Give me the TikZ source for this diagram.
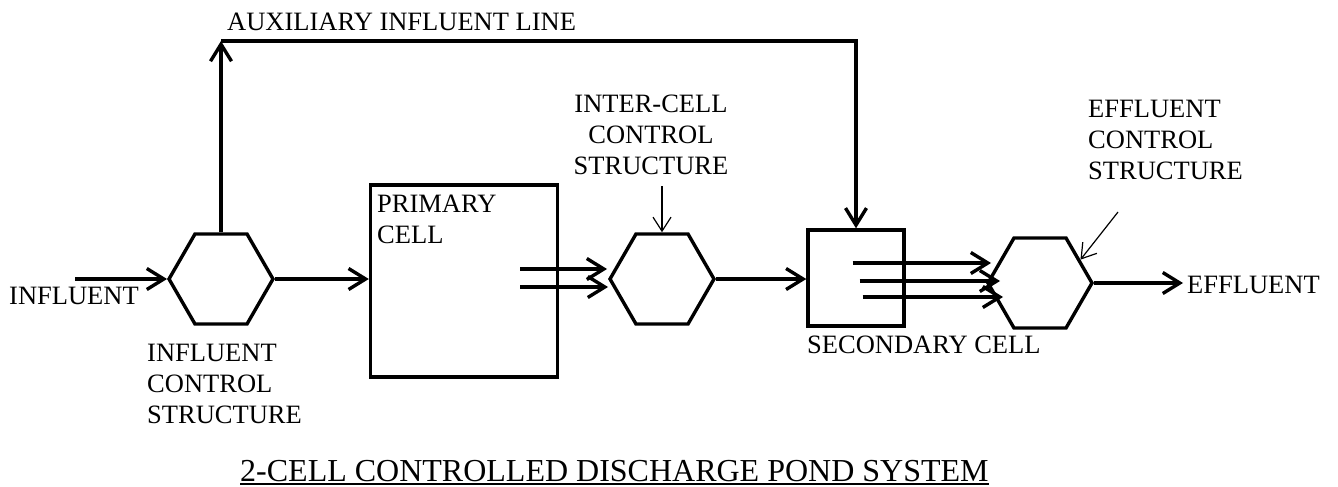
\documentclass[tikz,border=0pt]{standalone}
\usepackage{fontspec}
\setmainfont{Liberation Serif}
\usetikzlibrary{positioning,shapes.geometric,arrows.meta}

\begin{document}
\begin{tikzpicture}[x=1pt, y=-1pt,
    hexa/.style={regular polygon, regular polygon sides=6, draw, line width=3.4pt, minimum size=104pt, inner sep=0pt},
    cell/.style={rectangle, draw, line width=3.4pt, inner sep=0pt},
    lbl/.style={inner sep=0pt, align=left, font=\fontsize{26.5}{31}\selectfont},
    flow/.style={line width=3.4pt, -{Straight Barb[length=17pt, width=21pt]}},
    pointer/.style={line width=1.2pt, -{Straight Barb[length=14pt, width=18pt]}}]

    \useasboundingbox (0,0) rectangle (1338,487);

    \node[hexa] at (221,279) (inflhex) {};
    \node[cell, minimum width=187pt, minimum height=192pt] at (464,281) (primary) {};
    \node[hexa] at (662,279) (interhex) {};
    \node[cell, minimum width=96pt, minimum height=96pt] at (856,278) (secondary) {};
    \node[hexa] at (1040,283) (effhex) {};

    \node[lbl, anchor=base west] at (227,31) (auxtxt) {AUXILIARY INFLUENT LINE};
    \node[lbl, anchor=base west] at (9,304) (influent) {INFLUENT};
    \node[lbl, anchor=north west] at (147,344) (infltxt) {INFLUENT\\CONTROL\\STRUCTURE};
    \node[lbl, anchor=north west] at (377,195) (primarytxt) {PRIMARY\\CELL};
    \node[lbl, align=center, anchor=north] at (651,95) (intertxt) {INTER-CELL\\CONTROL\\STRUCTURE};
    \node[lbl, anchor=base west] at (807,353) (secondarytxt) {SECONDARY CELL};
    \node[lbl, anchor=north west] at (1088,100) (efftxt) {EFFLUENT\\CONTROL\\STRUCTURE};
    \node[lbl, anchor=base west] at (1187,293) (effluent) {EFFLUENT};
    \node[lbl, anchor=base west, font=\fontsize{32}{36}\selectfont] at (240,481) (title) {2-CELL CONTROLLED DISCHARGE POND SYSTEM};

    \coordinate (inflstart) at (75,279);
    \coordinate (auxcorner) at (221,41);
    \coordinate (effptr) at (1118,212);

    % main flow
    \draw[flow] (inflstart) -- (inflhex.west);
    \draw[flow] (inflhex.east) -- (inflhex.east -| primary.west);
    \draw[flow] (inflhex.north) -- (auxcorner);
    \draw[flow] (auxcorner) -| (secondary.north);
    \draw[flow] ([xshift=-39pt, yshift=12pt]primary.east) -- ([xshift=-1pt, yshift=10pt]interhex.west);
    \draw[flow] ([xshift=-39pt, yshift=-6pt]primary.east) -- ([xshift=0pt, yshift=-8pt]interhex.west);
    \draw[flow] (interhex.east) -- (interhex.east -| secondary.west);
    \draw[flow] ([xshift=-53pt, yshift=15pt]secondary.east) -- ([xshift=5pt, yshift=20pt]effhex.west);
    \draw[flow] ([xshift=-46pt, yshift=-3pt]secondary.east) -- ([xshift=14pt, yshift=2pt]effhex.west);
    \draw[flow] ([xshift=-43pt, yshift=-19pt]secondary.east) -- ([xshift=17pt, yshift=-14pt]effhex.west);
    \draw[flow, shorten >=4pt] (effhex.east) -- (effhex.east -| effluent.west);

    % label pointers
    \draw[pointer, shorten <=11pt] (interhex.north |- intertxt.south) -- (interhex.north);
    \draw[pointer] (effptr) -- (effhex.30);

    \draw[line width=1.5pt] ([yshift=-3pt]title.base west) -- ([yshift=-3pt]title.base east);
\end{tikzpicture}
\end{document}
